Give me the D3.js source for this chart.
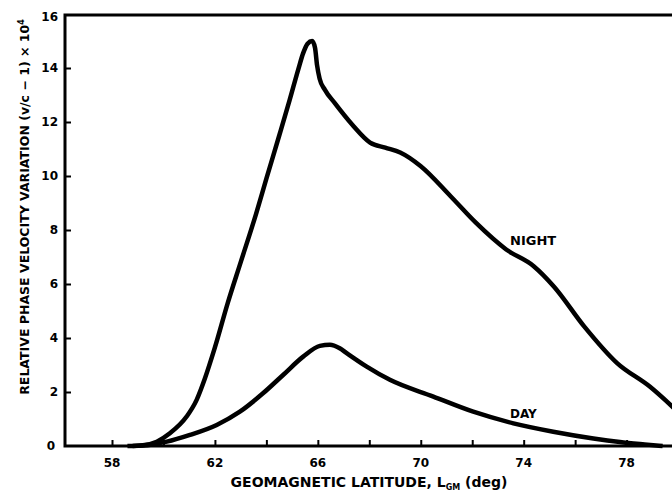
<!DOCTYPE html>
<html>
<head>
<meta charset="utf-8">
<script src="https://cdn.jsdelivr.net/npm/d3@7"></script>
<style>
  html, body { margin: 0; padding: 0; background: #fff; }
  svg { display: block; }
  text { font-family: "DejaVu Sans", "Liberation Sans", sans-serif; font-weight: bold; fill: #000; }
</style>
</head>
<body>
<svg id="chart" width="672" height="497"></svg>
<script>
// geomagnetic latitude (deg) / relative phase velocity variation x 1e4
const nightLat = [58.6, 59.2, 59.74, 60.25, 60.9, 61.29, 61.61, 62.0, 62.5, 63.0, 63.6, 64.0, 64.5, 64.9, 65.24, 65.43, 65.6, 65.78, 65.89, 65.97, 66.07, 66.27, 66.66, 67.34, 68.03, 68.62, 69.2, 69.99, 71.16, 72.14, 73.32, 74.39, 75.18, 76.35, 77.63, 78.9, 79.9];
const nightVal = [0, 0.03, 0.16, 0.47, 1.09, 1.71, 2.5, 3.65, 5.3, 6.8, 8.6, 9.9, 11.5, 12.8, 13.95, 14.55, 14.9, 15.0, 14.75, 14.1, 13.6, 13.2, 12.7, 11.9, 11.24, 11.05, 10.87, 10.37, 9.25, 8.27, 7.28, 6.66, 5.9, 4.43, 3.07, 2.2, 1.35];

const dayLat = [58.8, 59.5, 60.13, 61.03, 62.07, 62.97, 63.88, 64.66, 65.43, 66.08, 66.47, 66.85, 67.12, 67.9, 68.8, 70.49, 72.04, 73.6, 75.15, 76.71, 77.74, 78.7, 79.4];
const dayVal = [0, 0.05, 0.16, 0.41, 0.78, 1.27, 1.96, 2.64, 3.31, 3.71, 3.75, 3.62, 3.44, 2.94, 2.45, 1.83, 1.27, 0.84, 0.53, 0.28, 0.15, 0.06, 0];

const xMajor = [58, 62, 66, 70, 74, 78];
const xMinor = [60, 64, 68, 72, 76];
const yTicks = [0, 2, 4, 6, 8, 10, 12, 14, 16];

const svg = d3.select('#chart');
const plot = { left: 65, right: 672, top: 14, bottom: 446 };
const pxPerDeg = 25.73;

const x = d3.scaleLinear()
    .domain([58 - (112 - plot.left) / pxPerDeg, 58 + (plot.right - 112) / pxPerDeg])
    .range([plot.left, plot.right]);
const y = d3.scaleLinear().domain([0, 16]).range([plot.bottom, plot.top]);

const toPoints = (lat, val) => lat.map((d, i) => [d, val[i]]);
const line = d3.line()
    .x(d => x(d[0]))
    .y(d => y(d[1]))
    .curve(d3.curveMonotoneX);

// axes
const yAxis = svg.append('g')
    .attr('transform', `translate(${plot.left},0)`)
    .call(d3.axisRight(y).tickValues(yTicks.slice(1, -1)).tickSize(6).tickFormat(''));
yAxis.select('.domain').remove();
yAxis.selectAll('line').attr('stroke', '#000').attr('stroke-width', 2);

svg.append('g')
    .selectAll('text')
    .data(yTicks)
    .enter()
    .append('text')
    .attr('x', d => d === 0 ? 55 : 58)
    .attr('y', d => y(d) + (d === 16 ? 3 : 0))
    .attr('dy', '0.36em')
    .attr('text-anchor', 'end')
    .style('font-size', '12px')
    .text(d => d);

const xAxis = svg.append('g')
    .attr('transform', `translate(0,${plot.bottom})`)
    .call(d3.axisTop(x).tickValues(xMajor.concat(xMinor)).tickSize(6).tickFormat(''));
xAxis.select('.domain').remove();
xAxis.selectAll('line').attr('stroke', '#000').attr('stroke-width', 2);

svg.append('g')
    .selectAll('text')
    .data(xMajor)
    .enter()
    .append('text')
    .attr('x', d => x(d))
    .attr('y', 467)
    .attr('text-anchor', 'middle')
    .style('font-size', '12px')
    .text(d => d);

// frame: left axis, baseline, top edge
svg.append('path')
    .attr('d', `M${plot.right},${plot.top + 1}H${plot.left}V${plot.bottom}H${plot.right}`)
    .attr('fill', 'none')
    .attr('stroke', '#000')
    .attr('stroke-width', 3);

// curves
svg.append('path')
    .attr('d', line(toPoints(nightLat, nightVal)))
    .attr('fill', 'none')
    .attr('stroke', '#000')
    .attr('stroke-width', 4.5)
    .attr('stroke-linejoin', 'round');

svg.append('path')
    .attr('d', line(toPoints(dayLat, dayVal)))
    .attr('fill', 'none')
    .attr('stroke', '#000')
    .attr('stroke-width', 4.5)
    .attr('stroke-linejoin', 'round');

svg.append('text')
    .attr('x', 510)
    .attr('y', 245)
    .style('font-size', '13px')
    .text('NIGHT');

svg.append('text')
    .attr('x', 510)
    .attr('y', 418)
    .style('font-size', '12px')
    .text('DAY');

// axis titles
const xTitle = svg.append('text')
    .attr('x', 369)
    .attr('y', 487)
    .attr('text-anchor', 'middle')
    .style('font-size', '14px');
xTitle.append('tspan').text('GEOMAGNETIC LATITUDE, L');
xTitle.append('tspan').attr('dy', 3).style('font-size', '8px').text('GM');
xTitle.append('tspan').attr('dy', -3).text(' (deg)');

const yTitle = svg.append('text')
    .attr('transform', 'translate(29,207) rotate(-90)')
    .attr('text-anchor', 'middle')
    .style('font-size', '12.5px');
yTitle.append('tspan').text('RELATIVE PHASE VELOCITY VARIATION (v/c − 1) × 10');
yTitle.append('tspan').attr('dy', -5).style('font-size', '8px').text('4');
</script>
</body>
</html>
